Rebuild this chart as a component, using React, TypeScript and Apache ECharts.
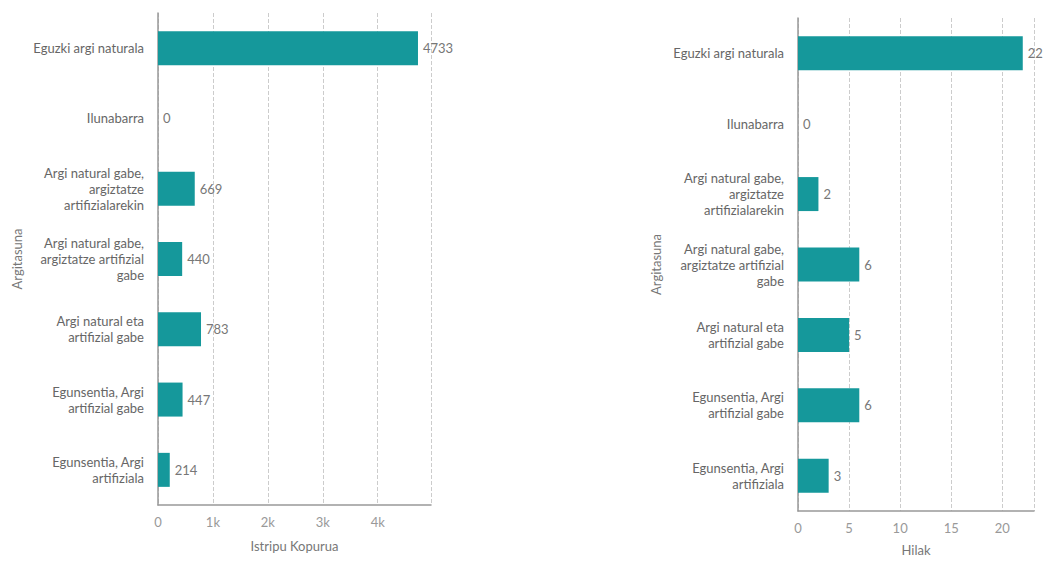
import React, { useEffect, useRef } from "react";
import * as echarts from "echarts";

const categories = [
  "Eguzki argi naturala",
  "Ilunabarra",
  "Argi natural gabe,\nargiztatze\nartifizialarekin",
  "Argi natural gabe,\nargiztatze artifizial\ngabe",
  "Argi natural eta\nartifizial gabe",
  "Egunsentia, Argi\nartifizial gabe",
  "Egunsentia, Argi\nartifiziala",
];
const accidents = [4733, 0, 669, 440, 783, 447, 214];
const deaths = [22, 0, 2, 6, 5, 6, 3];
const leftTicks = ["0", "1k", "2k", "3k", "4k"];

const TEAL = "#15989b";
const FONT = "Lato";

export default function App() {
  const ref = useRef<HTMLDivElement>(null);
  useEffect(() => {
    if (!ref.current) return;
    const chart = echarts.init(ref.current, undefined, { renderer: "svg" });
    const xAxisCommon = {
      type: "value" as const,
      nameLocation: "middle" as const,
      nameTextStyle: { color: "#777", fontSize: 13, fontFamily: FONT },
      axisLine: { show: true, lineStyle: { color: "#999", width: 1.5 } },
      axisTick: { show: false },
      splitLine: { show: true, lineStyle: { color: "#ccc", type: "dashed" as const, width: 1 } },
      axisLabel: { color: "#999", fontSize: 13, fontFamily: FONT, showMaxLabel: false },
    };
    const yAxisCommon = {
      type: "category" as const,
      data: categories,
      inverse: true,
      name: "Argitasuna",
      nameLocation: "middle" as const,
      nameTextStyle: { color: "#777", fontSize: 13, fontFamily: FONT },
      axisLine: { show: true, lineStyle: { color: "#999", width: 1.5 } },
      axisTick: { show: false },
      axisLabel: { color: "#666", fontSize: 13, fontFamily: FONT, lineHeight: 16, margin: 14 },
    };
    const labelCommon = {
      show: true,
      position: "right" as const,
      distance: 5,
      color: "#777",
      fontSize: 13,
      fontFamily: FONT,
    };
    chart.setOption({
      animation: false,
      grid: [
        { left: 158, top: 13, width: 273, height: 492 },
        { left: 798, top: 18, width: 236, height: 497 },
      ],
      xAxis: [
        {
          ...xAxisCommon,
          gridIndex: 0,
          min: 0,
          max: 4970,
          interval: 1000,
          name: "Istripu Kopurua",
          nameGap: 34,
          axisLabel: {
            ...xAxisCommon.axisLabel,
            margin: 10,
            formatter: (v: number) => leftTicks[Math.round(v / 1000)] ?? "",
          },
        },
        {
          ...xAxisCommon,
          gridIndex: 1,
          min: 0,
          max: 23.1,
          interval: 5,
          name: "Hilak",
          nameGap: 32,
          axisLabel: { ...xAxisCommon.axisLabel, margin: 10 },
        },
      ],
      yAxis: [
        { ...yAxisCommon, gridIndex: 0, nameGap: 135 },
        { ...yAxisCommon, gridIndex: 1, nameGap: 136 },
      ],
      series: [
        {
          type: "bar",
          xAxisIndex: 0,
          yAxisIndex: 0,
          data: accidents,
          barWidth: 34,
          itemStyle: { color: TEAL },
          label: labelCommon,
        },
        {
          type: "bar",
          xAxisIndex: 1,
          yAxisIndex: 1,
          data: deaths,
          barWidth: 34,
          itemStyle: { color: TEAL },
          label: labelCommon,
        },
      ],
    });
    return () => chart.dispose();
  }, []);
  return (
    <div
      ref={ref}
      style={{ position: "fixed", left: 0, top: 0, width: 1045, height: 561, background: "#fff" }}
    />
  );
}
